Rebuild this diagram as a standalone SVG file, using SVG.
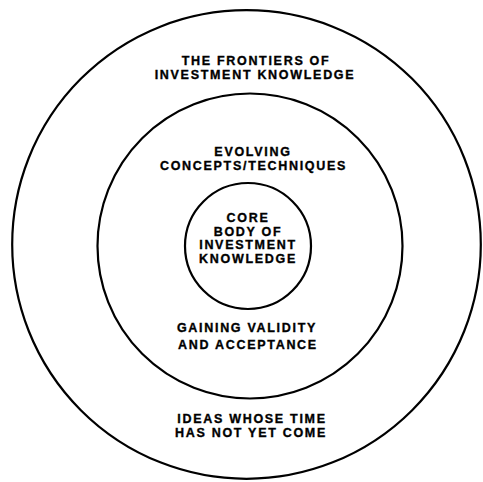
<svg xmlns="http://www.w3.org/2000/svg" width="483" height="482" viewBox="0 0 483 482">
  <style>
    .ring { fill: none; stroke: #000; stroke-width: 2.2; }
    .lbl { font-family: "Liberation Sans", Arial, Helvetica, sans-serif; font-weight: bold; font-size: 12.5px; letter-spacing: 1.7px; fill: #000; stroke: #000; stroke-width: 0.35px; text-anchor: middle; }
  </style>
  <rect x="0" y="0" width="483" height="482" fill="#fff"/>
  <g id="outer-ring">
    <circle class="ring" cx="246.5" cy="244.5" r="234.3"/>
    <text class="lbl" x="256" y="65">THE FRONTIERS OF</text>
    <text class="lbl" x="255" y="78.5">INVESTMENT KNOWLEDGE</text>
    <text class="lbl" x="252" y="422.5">IDEAS WHOSE TIME</text>
    <text class="lbl" x="251" y="437">HAS NOT YET COME</text>
  </g>
  <g id="middle-ring">
    <circle class="ring" cx="250" cy="246" r="152.5"/>
    <text class="lbl" x="253" y="156">EVOLVING</text>
    <text class="lbl" x="253.5" y="170">CONCEPTS/TECHNIQUES</text>
    <text class="lbl" x="247" y="332">GAINING VALIDITY</text>
    <text class="lbl" x="248" y="348.5">AND ACCEPTANCE</text>
  </g>
  <g id="core">
    <circle class="ring" cx="248" cy="246" r="63"/>
    <text class="lbl" x="248" y="222">CORE</text>
    <text class="lbl" x="248" y="235.5">BODY OF</text>
    <text class="lbl" x="248" y="249">INVESTMENT</text>
    <text class="lbl" x="248" y="263">KNOWLEDGE</text>
  </g>
  <g id="connectors"/>
</svg>
